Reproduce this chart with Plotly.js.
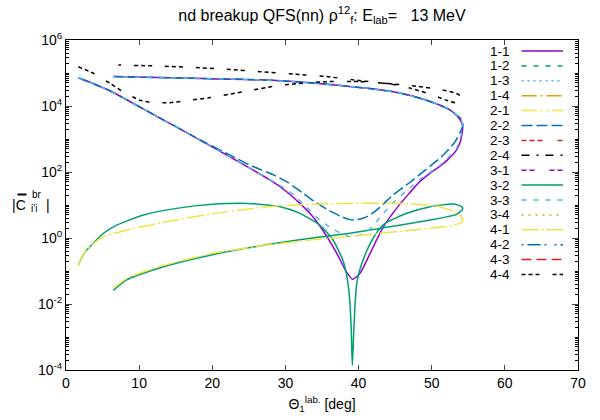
<!DOCTYPE html>
<html><head><meta charset="utf-8">
<script src="https://cdn.plot.ly/plotly-3.0.1.min.js"></script>
<style>body{margin:0;background:#fff}#chart{width:600px;height:420px}</style>
</head><body><div id="chart"></div>
<script>
// ---- data ----
const legendNames = ["1-1","1-2","1-3","1-4","2-1","2-2","2-3","2-4","3-1","3-2","3-3","3-4","4-1","4-2","4-3","4-4"];

const x11 = [1.68, 4.0, 6.0, 8.3, 11.0, 13.8, 16.0, 18.3, 22.4, 25.0, 28.3, 30.0, 32.0, 33.4, 35.2, 37.0, 38.4, 39.2, 40.2, 41.6, 43.4, 45.2, 46.8, 48.4, 49.8, 51.1, 52.3, 53.4, 53.95, 54.24, 53.9, 52.5, 49.3, 44.8, 35.6, 26.5, 17.4, 6.47];
const y11 = [7.2e4, 4.5e4, 2.9e4, 1.55e4, 7.2e3, 3.3e3, 1.8e3, 930, 290, 135, 50, 27, 11, 5.4, 1.6, 0.35, 0.089, 0.056, 0.085, 0.35, 2.2, 7.9, 21, 52, 93, 148, 250, 470, 890, 2.3e3, 3.8e3, 7.6e3, 1.5e4, 2.7e4, 4.6e4, 6.2e4, 6.9e4, 7.8e4];

const x22 = [1.68, 4.0, 6.0, 8.3, 11.0, 13.8, 16.0, 18.3, 22.4, 25.0, 28.3, 30.2, 32.4, 34.0, 35.6, 37.5, 38.8, 39.5, 40.5, 41.6, 42.9, 44.7, 47.0, 48.4, 49.8, 51.5, 53.2, 54.3, 53.95, 52.5, 49.3, 44.8, 35.6, 26.5, 17.4, 6.47];
const y22 = [7.2e4, 4.5e4, 2.9e4, 1.55e4, 7.2e3, 3.3e3, 1.8e3, 950, 330, 166, 83, 50, 23, 12.6, 7.6, 4.6, 3.6, 3.5, 3.9, 5.0, 8.5, 20, 48, 85, 151, 316, 830, 2.8e3, 4.2e3, 7.6e3, 1.5e4, 2.7e4, 4.6e4, 6.2e4, 6.9e4, 7.8e4];

const x32 = [1.68, 2.5, 3.73, 5.0, 6.93, 10.6, 15.1, 20.0, 25.0, 29.3, 32.0, 34.7, 36.5, 37.9, 38.5, 38.8, 39.0, 39.15, 39.35, 39.55, 39.8, 40.6, 41.6, 42.9, 43.8, 46.6, 49.8, 53.0, 54.1, 54.24, 53.4, 49.8, 42.9, 39.0, 33.4, 26.5, 19.7, 12.9, 8.3, 6.47];
const y32 = [0.15, 0.35, 0.69, 1.32, 2.45, 5.0, 7.9, 10.5, 11.2, 8.9, 5.6, 2.45, 0.87, 0.2, 0.05, 0.0126, 0.0016, 1.4e-4, 0.0016, 0.0126, 0.05, 0.21, 0.69, 1.95, 2.9, 5.6, 8.9, 10.7, 8.9, 7.6, 5.2, 3.5, 1.95, 1.41, 0.98, 0.575, 0.30, 0.126, 0.054, 0.026];

const x33 = [1.68, 4.0, 6.0, 8.3, 11.0, 13.8, 16.0, 18.3, 22.4, 25.0, 28.3, 30.6, 32.5, 34.7, 36.5, 37.8, 38.8, 39.7, 40.8, 42.0, 42.9, 44.5, 46.5, 48.4, 51.1, 53.4, 54.27, 53.9, 52.5, 49.3, 44.8, 35.6, 26.5, 17.4, 6.47];
const y33 = [7.2e4, 4.5e4, 2.9e4, 1.55e4, 7.2e3, 3.3e3, 1.8e3, 930, 290, 135, 52, 25, 10.5, 3.5, 1.86, 1.32, 1.1, 1.12, 1.41, 2.24, 4.2, 10.5, 26, 60, 158, 525, 2.5e3, 4.0e3, 7.6e3, 1.5e4, 2.7e4, 4.6e4, 6.2e4, 6.9e4, 7.8e4];

const x41 = [1.68, 2.8, 5.1, 8.3, 15.1, 22.0, 29.3, 38.4, 45.2, 51.1, 53.9, 54.24, 53.0, 47.5, 42.9, 36.1, 33.4, 26.5, 19.7, 12.9, 8.3, 6.47];
const y41 = [0.15, 0.44, 1.1, 1.74, 3.55, 6.3, 9.5, 11.2, 11.2, 8.9, 5.0, 3.1, 2.45, 1.74, 1.38, 0.98, 0.87, 0.575, 0.33, 0.138, 0.060, 0.0295];

const x44 = [1.68, 3.73, 6.0, 7.8, 10.1, 11.9, 14.2, 16.5, 19.7, 24.2, 28.8, 32.4, 36.0, 40.0, 44.0, 47.0, 50.0, 52.0, 53.4, 54.2, 53.4, 51.0, 47.0, 43.0, 39.0, 35.6, 31.1, 26.5, 22.0, 17.4, 12.9, 7.15];
const y44 = [1.55e5, 9.8e4, 4.9e4, 2.7e4, 1.5e4, 1.26e4, 1.26e4, 1.45e4, 1.8e4, 2.7e4, 4.1e4, 4.9e4, 5.5e4, 5.5e4, 4.8e4, 3.5e4, 2.2e4, 1.5e4, 1.26e4, 1.8e4, 2.4e4, 3.2e4, 4.2e4, 5.0e4, 6.3e4, 7.8e4, 9.3e4, 1.1e5, 1.29e5, 1.48e5, 1.62e5, 1.74e5];

const yTickVals = [1e-4, 1e-2, 1, 1e2, 1e4, 1e6];
const yTickText = ["10<sup>-4</sup>","10<sup>-2</sup>","10<sup>0</sup>","10<sup>2</sup>","10<sup>4</sup>","10<sup>6</sup>"];
const xTickVals = [0, 10, 20, 30, 40, 50, 60, 70];

// ---- styles ----
const colors = ["#9400d3","#009e73","#56b4e9","#e69f00","#f0e442","#0072b2","#e51e10","#000000",
                "#9400d3","#009e73","#56b4e9","#e69f00","#f0e442","#0072b2","#e51e10","#000000"];
const dashes = ["solid","5px,7px","2px,4px","15px,4px,2px,4px","15px,4px,2px,4px,2px,4px","11px,4px",
                "5px,3px,5px,3px,5px,15px","8px,7px,2px,7px","5px,3px,5px,15px","solid","5px,7px","2px,5px",
                "17px,3px,2px,3px","2px,4px,13px,4px,2px,8px","10px,5px","4px,3px,4px,3px,4px,13px"];
const FONT = "Liberation Sans, Arial, sans-serif";

// minor log ticks (2..9 in every decade, plus the odd powers of ten)
const minorVals = [];
for (let e = -4; e < 6; e++) {
  if (e % 2 !== 0) minorVals.push(Math.pow(10, e));
  for (let k = 2; k <= 9; k++) minorVals.push(k * Math.pow(10, e));
}

function tr(x, y, idx) {
  return {x: x, y: y, type: 'scatter', mode: 'lines', name: legendNames[idx], showlegend: false,
          line: {color: colors[idx], width: 1.5, dash: dashes[idx], shape: 'spline', smoothing: 0.6}};
}
const traces = [tr(x11, y11, 0), tr(x22, y22, 5), tr(x32, y32, 9), tr(x33, y33, 10), tr(x41, y41, 12), tr(x44, y44, 15)];

// plot area in pixels: x 66..578, y 40..370
const px = v => (v - 66) / 512;
const py = v => (370 - v) / 330;

const shapes = [];
const annotations = [];
legendNames.forEach((n, i) => {
  const yy = 51 + 14.9 * i;
  shapes.push({type: 'line', xref: 'paper', yref: 'paper', x0: px(521.5), x1: px(563), y0: py(yy), y1: py(yy),
               line: {color: colors[i], width: 1.5, dash: dashes[i]}});
  annotations.push({xref: 'paper', yref: 'paper', x: px(512), y: py(yy), xanchor: 'right', yanchor: 'middle',
                    text: n, showarrow: false, font: {family: FONT, size: 13.5, color: '#000'}});
});
// y-axis label |C̄_{i'i}^{br}|  (bar over C drawn as a short line)
annotations.push({xref: 'paper', yref: 'paper', x: px(28), y: py(205), xanchor: 'right', yanchor: 'middle',
                  text: "|C", showarrow: false, font: {family: FONT, size: 14, color: '#000'}});
shapes.push({type: 'line', xref: 'paper', yref: 'paper', x0: px(17.5), x1: px(26.5), y0: py(194.5), y1: py(194.5),
             line: {color: '#000', width: 2}});
annotations.push({xref: 'paper', yref: 'paper', x: px(28.5), y: py(208.5), xanchor: 'left', yanchor: 'middle',
                  text: "i'i", showarrow: false, font: {family: FONT, size: 10, color: '#000'}});
annotations.push({xref: 'paper', yref: 'paper', x: px(29.5), y: py(194.5), xanchor: 'left', yanchor: 'middle',
                  text: "br", showarrow: false, font: {family: FONT, size: 10, color: '#000'}});
annotations.push({xref: 'paper', yref: 'paper', x: px(44), y: py(205), xanchor: 'left', yanchor: 'middle',
                  text: "|", showarrow: false, font: {family: FONT, size: 14, color: '#000'}});

const layout = {
  width: 600, height: 420,
  margin: {l: 66, r: 22, t: 40, b: 50},
  paper_bgcolor: '#fff', plot_bgcolor: '#fff',
  font: {family: FONT, size: 14, color: '#000'},
  showlegend: false,
  title: {text: "nd breakup QFS(nn) \u03c1<sup>12</sup><sub>f</sub>: E<sub>lab</sub>=\u00a0\u00a0\u00a013 MeV",
          x: 0.5, xref: 'paper', xanchor: 'center', y: 1 - 15/420, yref: 'container', yanchor: 'middle',
          font: {family: FONT, size: 16, color: '#000'}},
  xaxis: {range: [0, 70], tickmode: 'array', tickvals: xTickVals, ticks: 'inside', ticklen: 5,
          showline: true, linecolor: '#000', linewidth: 1, mirror: 'ticks', showgrid: false, zeroline: false,
          tickfont: {family: FONT, size: 14},
          title: {text: "\u0398<sub>1</sub><sup>lab.</sup> [deg]", standoff: 9, font: {family: FONT, size: 14}}},
  yaxis: {type: 'log', range: [-4, 6], tickmode: 'array', tickvals: yTickVals, ticktext: yTickText,
          ticks: 'inside', ticklen: 6, showline: true, linecolor: '#000', linewidth: 1, mirror: 'ticks',
          showgrid: false, zeroline: false, tickfont: {family: FONT, size: 14},
          minor: {tickmode: 'array', tickvals: minorVals, ticks: 'inside', ticklen: 3, showgrid: false, tickcolor: '#000'}},
  shapes: shapes,
  annotations: annotations
};

Plotly.newPlot('chart', traces, layout, {staticPlot: true, displayModeBar: false});
</script>
</body></html>
